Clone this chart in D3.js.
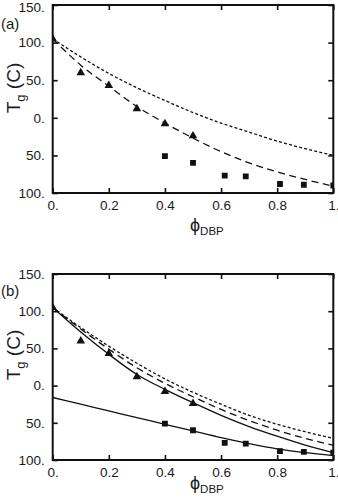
<!DOCTYPE html>
<html>
<head>
<meta charset="utf-8">
<script src="https://cdn.jsdelivr.net/npm/d3@7"></script>
<style>
  html, body { margin: 0; padding: 0; background: #fff; }
  svg { display: block; }
  text { font-family: "Liberation Sans", Arial, Helvetica, sans-serif; fill: #1a1a1a; }
</style>
</head>
<body>
<svg id="chart" width="338" height="500"></svg>
<script>
// Volume fraction of DBP at which the model curves are tabulated
const phiGrid = [0, 0.1, 0.2, 0.3, 0.4, 0.5, 0.6, 0.7, 0.8, 0.9, 1.0];

// Measured Tg (°C): upper branch (triangles) and lower branch (squares)
const triPhi = [0, 0.1, 0.2, 0.3, 0.4, 0.5];
const triTg  = [105, 60, 43, 12, -8, -24];
const sqPhi  = [0.4, 0.5, 0.613, 0.688, 0.81, 0.895, 1.0];
const sqTg   = [-51, -60, -77, -78, -88, -89, -90];

// Panel (a) model curves
const aDotted = [105, 81, 59, 40, 23, 7, -7, -19, -31, -41, -50];
const aDashed = [105, 70, 42, 15, -7, -27, -45, -60, -72, -82, -91];

// Panel (b) model curves
const bDotted     = [105, 78, 53, 30, 9, -9, -25, -40, -52, -62, -71];
const bDashed     = [105, 76, 49, 24, 3, -15, -32, -47, -60, -71, -80];
const bSolidUpper = [105, 72, 42, 15, -5, -23, -40, -55, -68, -80, -90];
const bSolidLower = [-16, -25, -34, -43, -52, -61, -70, -78, -85, -90, -94];

// Axis ticks and their printed labels
const xTicks = [0, 0.2, 0.4, 0.6, 0.8, 1.0];
const xTickLabels = ["0.", "0.2", "0.4", "0.6", "0.8", "1."];
const yTicks = [-100, -50, 0, 50, 100, 150];
const yTickLabels = ["100.", "50.", "0.", "50.", "100.", "150."];

const svg = d3.select("#chart");

function drawPanel(cfg) {
  const x = d3.scaleLinear().domain([0, 1]).range([cfg.left, cfg.right]);
  const y = d3.scaleLinear().domain([-100, 150]).range([cfg.bottom, cfg.top]);
  const g = svg.append("g");

  const clipId = "clip-" + cfg.name;
  g.append("clipPath").attr("id", clipId)
    .append("rect")
    .attr("x", cfg.left).attr("y", cfg.top)
    .attr("width", cfg.right - cfg.left).attr("height", cfg.bottom - cfg.top);

  const plot = g.append("g").attr("clip-path", `url(#${clipId})`);

  const line = d3.line()
    .x((d, i) => x(phiGrid[i]))
    .y(d => y(d))
    .curve(d3.curveMonotoneX);

  cfg.curves.forEach(c => {
    plot.append("path")
      .attr("d", line(c.values))
      .attr("fill", "none")
      .attr("stroke", "#111")
      .attr("stroke-width", c.width)
      .attr("stroke-dasharray", c.dash || null);
  });

  const tri = d3.symbol().type(d3.symbolTriangle).size(32);
  plot.selectAll("path.tri").data(triPhi).enter().append("path")
    .attr("class", "tri")
    .attr("d", tri)
    .attr("transform", (d, i) => `translate(${x(d)},${y(triTg[i])})`)
    .attr("fill", "#111");

  const sq = d3.symbol().type(d3.symbolSquare).size(34);
  plot.selectAll("path.sq").data(sqPhi).enter().append("path")
    .attr("class", "sq")
    .attr("d", sq)
    .attr("transform", (d, i) => `translate(${x(d)},${y(sqTg[i])})`)
    .attr("fill", "#111");

  // Axes with inward ticks on all four sides
  const fmtX = d => xTickLabels[xTicks.indexOf(d)];
  const fmtY = d => yTickLabels[yTicks.indexOf(d)];

  const ax = [
    g.append("g").attr("transform", `translate(0,${cfg.bottom})`)
      .call(d3.axisBottom(x).tickValues(xTicks).tickFormat(fmtX).tickSize(-5).tickPadding(7)),
    g.append("g").attr("transform", `translate(0,${cfg.top})`)
      .call(d3.axisTop(x).tickValues(xTicks).tickFormat("").tickSize(-5)),
    g.append("g").attr("transform", `translate(${cfg.left},0)`)
      .call(d3.axisLeft(y).tickValues(yTicks).tickFormat(fmtY).tickSize(-5).tickPadding(8)),
    g.append("g").attr("transform", `translate(${cfg.right},0)`)
      .call(d3.axisRight(y).tickValues(yTicks).tickFormat("").tickSize(-5))
  ];
  ax.forEach(a => {
    a.select(".domain").remove();
    a.selectAll(".tick line").attr("stroke", "#111").attr("stroke-width", 1.6);
    a.selectAll(".tick text")
      .style("font-family", '"Liberation Sans", Arial, sans-serif')
      .style("font-size", "13.5px")
      .attr("fill", "#1a1a1a");
  });
  // keep the topmost label of the upper panel inside the page
  ax[2].selectAll(".tick").filter(d => d === 150).select("text")
    .attr("dy", cfg.top < 10 ? "0.5em" : "0.32em");

  g.append("rect")
    .attr("x", cfg.left).attr("y", cfg.top)
    .attr("width", cfg.right - cfg.left).attr("height", cfg.bottom - cfg.top)
    .attr("fill", "none").attr("stroke", "#111").attr("stroke-width", 2);

  // Panel tag
  g.append("text")
    .attr("x", 1).attr("y", cfg.tagY)
    .style("font-size", "15px")
    .text(cfg.tag);

  // Y axis title: T_g (C)
  const yt = g.append("text")
    .attr("transform", `translate(${cfg.yTitleX},${cfg.yTitleY}) rotate(-90)`)
    .attr("text-anchor", "middle")
    .style("font-size", "19px");
  yt.append("tspan").text("T");
  yt.append("tspan").attr("dy", 5).style("font-size", "13px").text("g");
  yt.append("tspan").attr("dy", -5).text(" (C)");

  // X axis title: phi_DBP
  const xt = g.append("text")
    .attr("x", cfg.xTitleX).attr("y", cfg.xTitleY)
    .style("font-size", "18px");
  xt.append("tspan").text("ϕ");
  xt.append("tspan").attr("dy", 4).style("font-size", "11.5px").text("DBP");
}

drawPanel({
  name: "a", tag: "(a)", tagY: 29,
  left: 52.7, right: 333.3, top: 5, bottom: 193,
  yTitleX: 20, yTitleY: 88,
  xTitleX: 190, xTitleY: 231,
  curves: [
    { values: aDotted, dash: "3,2.2", width: 1.3 },
    { values: aDashed, dash: "7,4.5", width: 1.3 }
  ]
});

drawPanel({
  name: "b", tag: "(b)", tagY: 296,
  left: 52.7, right: 333.3, top: 274, bottom: 460,
  yTitleX: 20, yTitleY: 355,
  xTitleX: 190, xTitleY: 489,
  curves: [
    { values: bDotted, dash: "3,2.2", width: 1.3 },
    { values: bDashed, dash: "7,4.5", width: 1.3 },
    { values: bSolidUpper, width: 1.3 },
    { values: bSolidLower, width: 1.3 }
  ]
});
</script>
</body>
</html>
